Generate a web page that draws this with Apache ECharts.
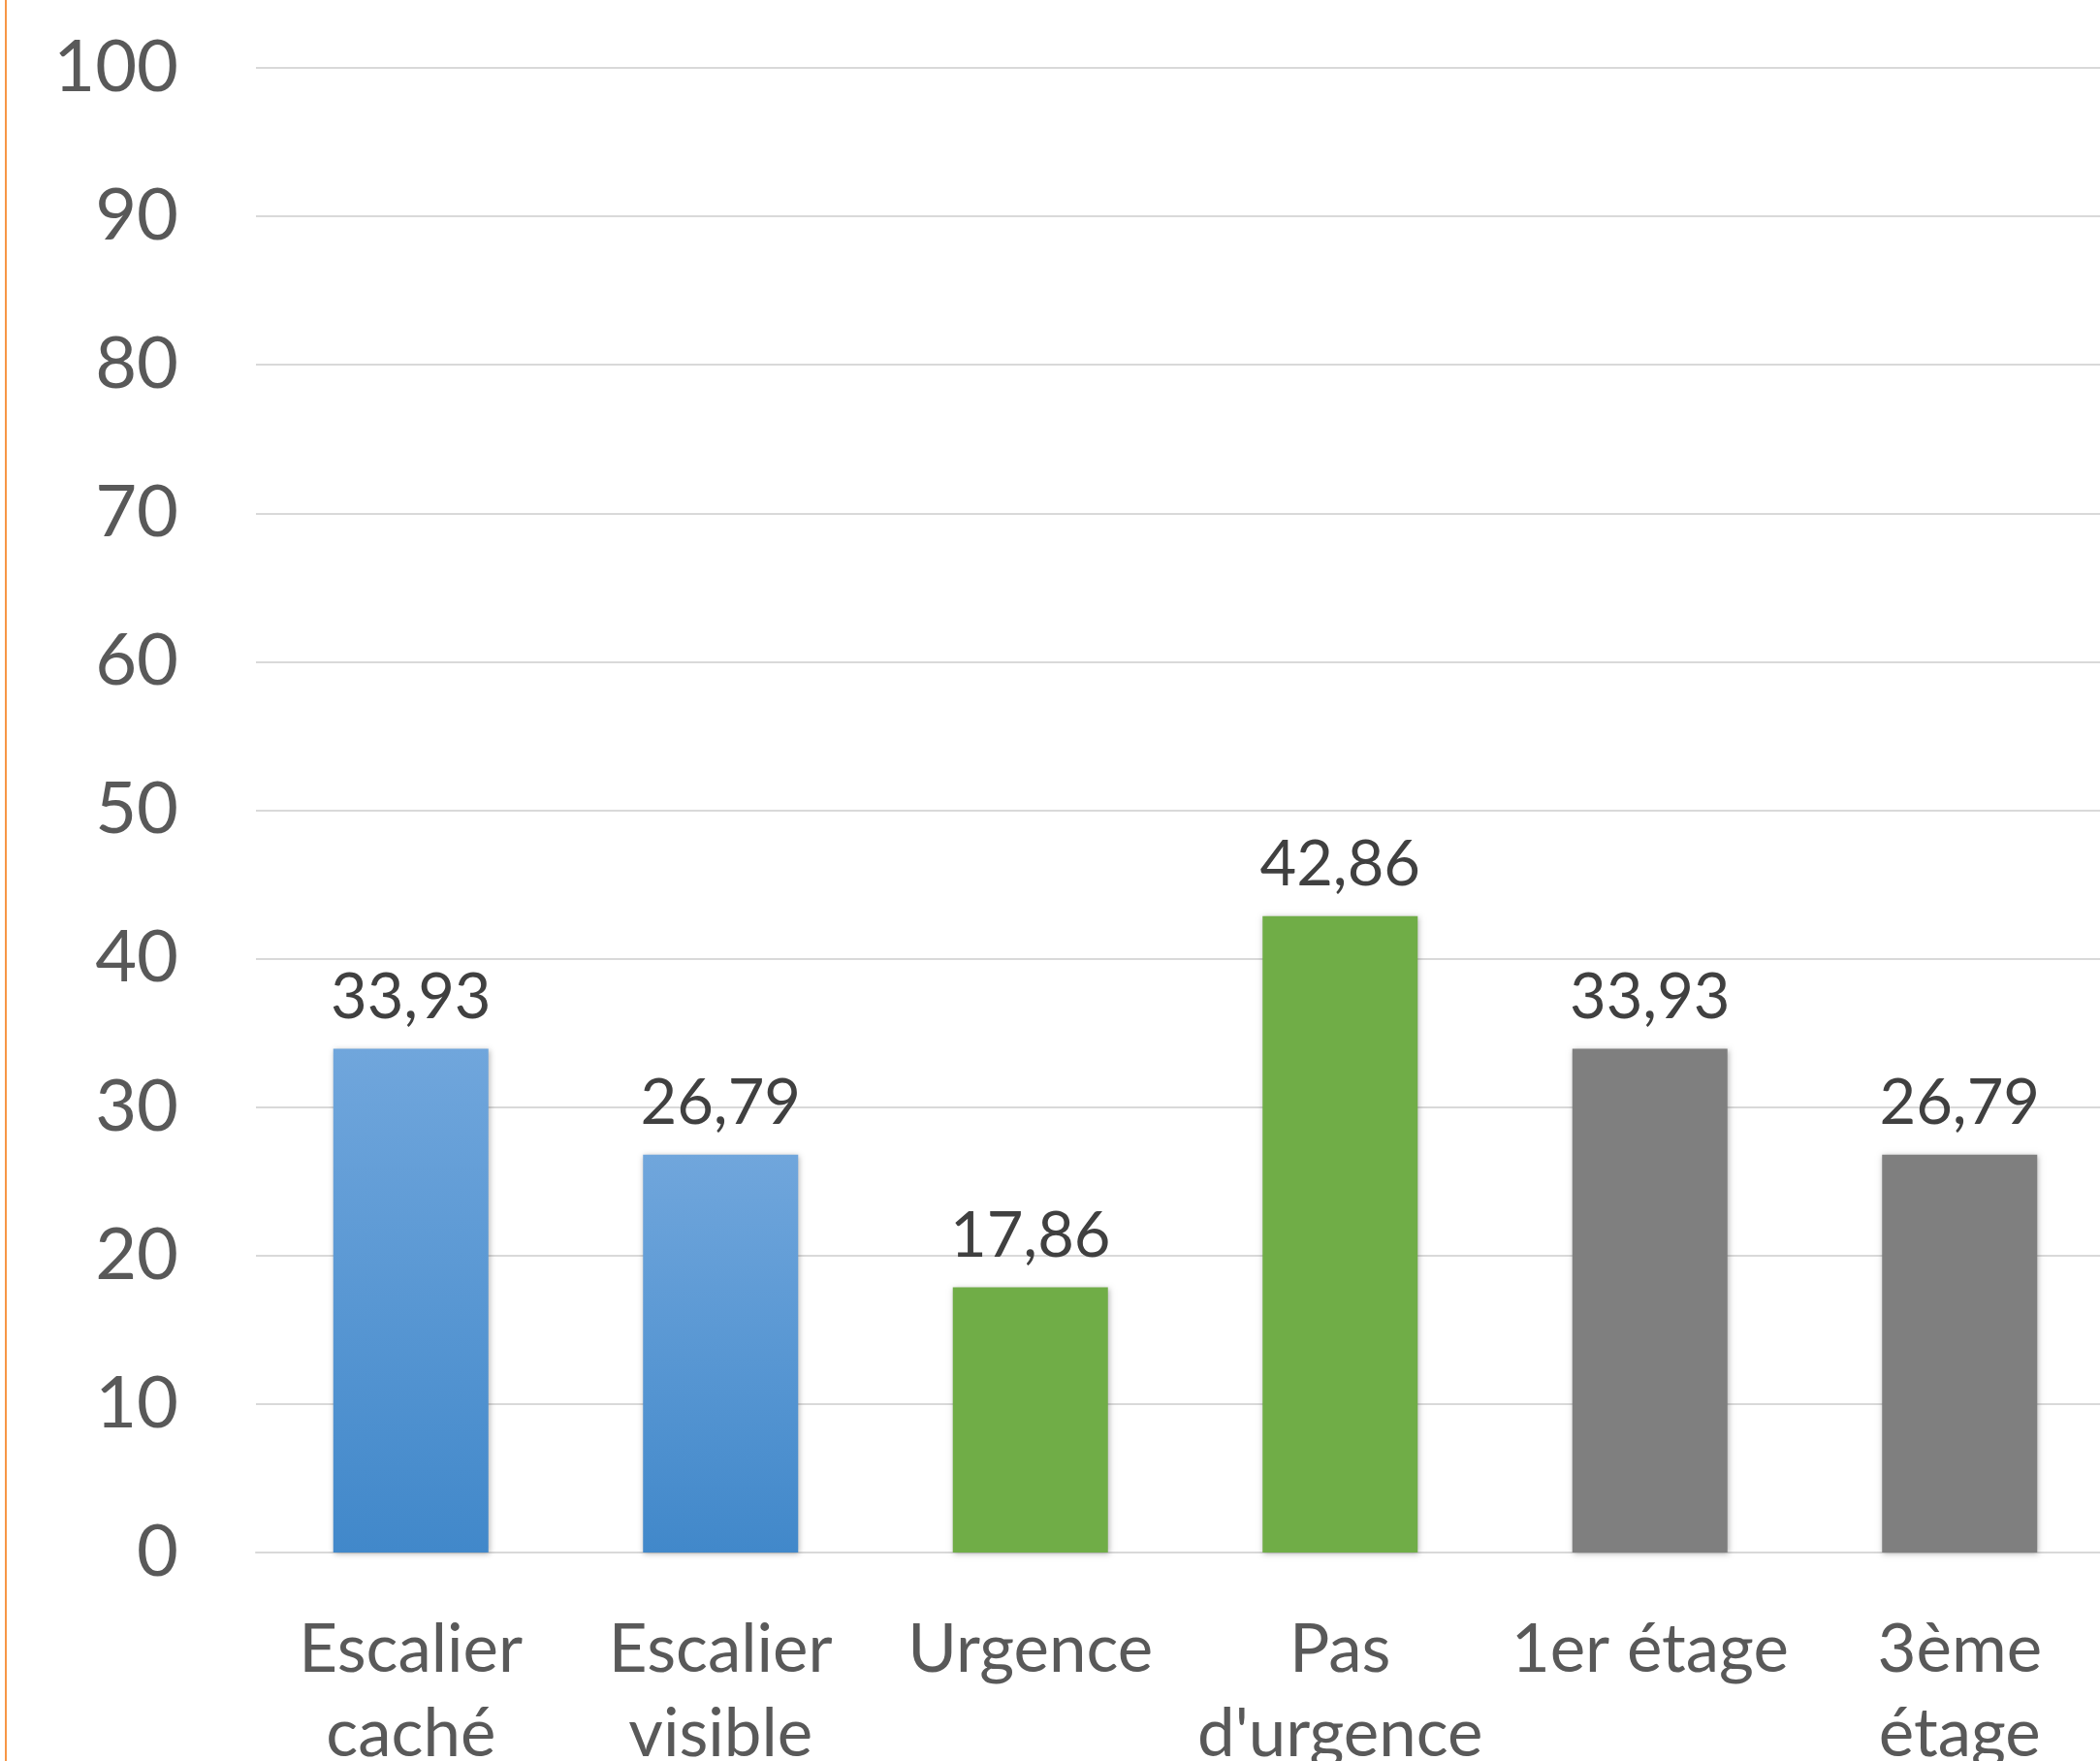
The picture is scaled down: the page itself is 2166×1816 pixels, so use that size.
<!DOCTYPE html>
<html>
<head>
<meta charset="utf-8">
<script src="https://cdn.jsdelivr.net/npm/echarts@6/dist/echarts.min.js"></script>
<style>
html,body{margin:0;padding:0;background:#fff;overflow:hidden;}
#wrap{position:relative;width:2166px;height:1816px;overflow:hidden;}
#chart{position:absolute;left:0;top:0;width:2166px;height:1816px;}
#edge{position:absolute;left:5px;top:0;width:2px;height:1816px;background:#f79646;}
</style>
</head>
<body>
<div id="wrap"><div id="chart"></div><div id="edge"></div></div>
<script>
const categories = ["Escalier\ncaché", "Escalier\nvisible", "Urgence", "Pas\nd'urgence", "1er étage", "3ème\nétage"];
const values = [33.93, 26.79, 17.86, 42.86, 33.93, 26.79];
const groups = ["blue", "blue", "green", "green", "gray", "gray"];
const yTicks = [0, 10, 20, 30, 40, 50, 60, 70, 80, 90, 100];

const fills = {
  blue: new echarts.graphic.LinearGradient(0, 0, 0, 1, [
    {offset: 0, color: '#70a6dc'},
    {offset: 1, color: '#4188ca'}
  ]),
  green: '#70ad47',
  gray: '#7f7f7f'
};

const chart = echarts.init(document.getElementById('chart'), null, {renderer: 'canvas'});
chart.setOption({
  backgroundColor: '#ffffff',
  animation: false,
  grid: {left: 264, right: -15, top: 70, bottom: 215, containLabel: false, outerBoundsMode: 'none'},
  xAxis: {
    type: 'category',
    data: categories,
    axisLine: {show: true, lineStyle: {color: '#d9d9d9', width: 2}},
    axisTick: {show: false},
    axisLabel: {
      interval: 0,
      margin: 57,
      fontFamily: 'Lato',
      fontSize: 69,
      lineHeight: 87,
      color: '#595959',
      align: 'center'
    }
  },
  yAxis: {
    type: 'value',
    min: yTicks[0],
    max: yTicks[yTicks.length - 1],
    interval: 10,
    axisLine: {show: false},
    axisTick: {show: false},
    splitLine: {lineStyle: {color: '#d9d9d9', width: 2}},
    axisLabel: {
      margin: 80,
      fontFamily: 'Lato',
      fontSize: 74,
      color: '#595959'
    }
  },
  series: [{
    type: 'bar',
    barWidth: 160,
    data: values.map((v, i) => ({
      value: v,
      itemStyle: {
        color: fills[groups[i]],
        shadowBlur: 6,
        shadowColor: 'rgba(0,0,0,0.3)',
        shadowOffsetX: 1,
        shadowOffsetY: 1
      }
    })),
    label: {
      show: true,
      position: 'top',
      distance: 20,
      fontFamily: 'Lato',
      fontSize: 65,
      color: '#404040',
      formatter: p => p.value.toFixed(2).replace('.', ',')
    }
  }]
});
</script>
</body>
</html>
